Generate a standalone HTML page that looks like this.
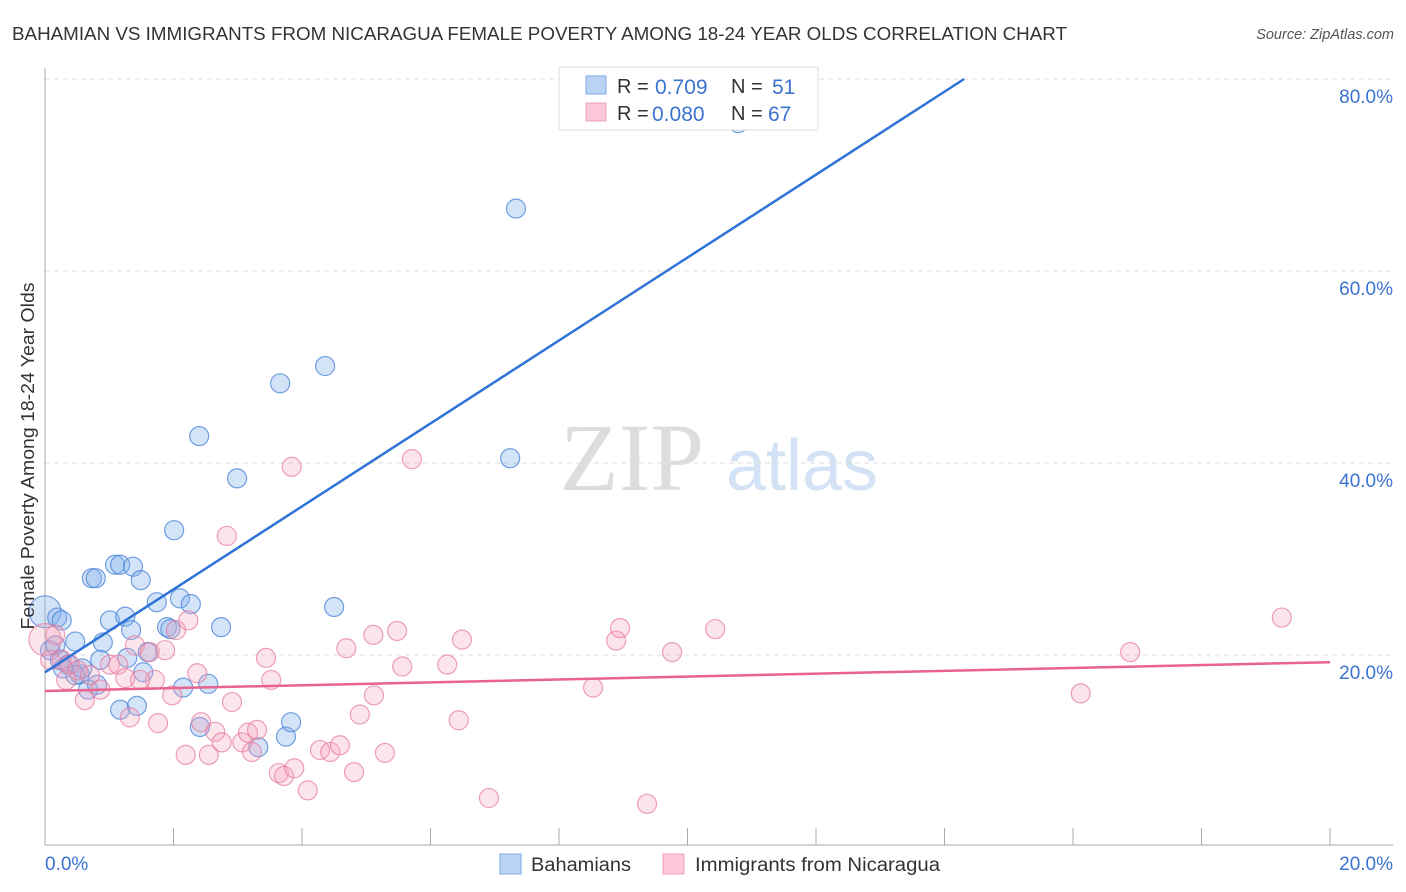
<!DOCTYPE html>
<html><head><meta charset="utf-8"><style>
body{margin:0;background:#fff;font-family:"Liberation Sans",sans-serif}
svg{display:block}
</style></head><body>
<svg width="1406" height="892" xmlns="http://www.w3.org/2000/svg">
<text x="12" y="40" font-size="18" fill="#333" textLength="1055" lengthAdjust="spacingAndGlyphs">BAHAMIAN VS IMMIGRANTS FROM NICARAGUA FEMALE POVERTY AMONG 18-24 YEAR OLDS CORRELATION CHART</text>
<text x="1394" y="39" font-size="14.5" fill="#555" font-style="italic" text-anchor="end">Source: ZipAtlas.com</text>
<g>
<text x="632" y="490" font-size="96" font-family="Liberation Serif,serif" fill="#ddd" text-anchor="middle">ZIP</text>
<text x="802" y="490" font-size="72" fill="#d3e2f5" text-anchor="middle">atlas</text>
</g>
<g id="grid"></g>
<g id="axes"></g>
<g id="pts"></g>
<g id="lines"></g>
<text transform="translate(34,456) rotate(-90)" font-size="18" fill="#333" text-anchor="middle" textLength="347" lengthAdjust="spacingAndGlyphs">Female Poverty Among 18-24 Year Olds</text>
<g>
<rect x="559" y="67" width="259" height="63" fill="#fff" stroke="#ddd"/>
<rect x="586" y="76" width="20" height="18" fill="#b8d3f5" stroke="#7fa9e3"/>
<rect x="586" y="103" width="20" height="18" fill="#fcc7d6" stroke="#f0a0b8"/>
<text x="617" y="93" font-size="20" fill="#333">R = </text><text x="655" y="94" font-size="21" fill="#3b73d0">0.709</text>
<text x="731" y="93" font-size="20" fill="#333">N = </text><text x="772" y="94" font-size="21" fill="#3b73d0">51</text>
<text x="617" y="120" font-size="20" fill="#333">R = </text><text x="652" y="121" font-size="21" fill="#3b73d0">0.080</text>
<text x="731" y="120" font-size="20" fill="#333">N = </text><text x="768" y="121" font-size="21" fill="#3b73d0">67</text>
</g>
<g>
<rect x="500" y="854" width="21" height="20" fill="#b8d3f5" stroke="#7fa9e3"/>
<text x="531" y="871" font-size="19" fill="#333" textLength="100" lengthAdjust="spacingAndGlyphs">Bahamians</text>
<rect x="663" y="854" width="21" height="20" fill="#fcc7d6" stroke="#f0a0b8"/>
<text x="695" y="871" font-size="19" fill="#333" textLength="245" lengthAdjust="spacingAndGlyphs">Immigrants from Nicaragua</text>
</g>
</svg>
<script>
const yTicks=[20,40,60,80];
const xTickVals=[0,2,4,6,8,10,12,14,16,18,20];
const blueX=[0,0.19,0.26,0.08,0.23,0.47,0.36,0.54,0.67,0.81,0.73,0.79,1.09,1.17,1.37,1.49,1.01,1.25,1.34,0.90,1.28,1.60,1.53,1.17,1.43,1.74,2.10,2.27,1.90,1.95,2.01,2.40,2.74,2.54,2.15,2.41,2.99,3.32,3.75,3.83,3.66,4.36,4.50,7.33,7.24,10.79,0.86,0.58,0.47,0.16,0.28];
const blueY=[24.5,23.9,23.6,20.5,19.5,21.4,19.0,18.0,16.4,16.9,28.0,28.0,29.4,29.4,29.2,27.8,23.6,24.0,22.6,21.3,19.7,20.3,18.2,14.3,14.7,25.5,25.9,25.3,22.9,22.7,33.0,42.8,22.9,17.0,16.6,12.5,38.4,10.4,11.5,13.0,48.3,50.1,25.0,66.5,40.5,75.4,19.5,18.6,17.9,21.0,18.6];
const pinkX=[0,0.16,0.26,0.08,0.39,0.51,0.70,0.86,1.01,1.14,1.25,1.32,1.40,1.63,1.71,1.87,1.76,2.04,2.23,1.98,2.19,2.37,2.55,2.43,2.65,2.75,2.91,2.83,3.07,3.22,3.16,3.30,3.44,3.52,3.64,3.72,3.88,3.84,4.09,4.28,4.44,4.59,4.69,4.81,4.90,5.12,5.11,5.29,5.48,5.56,5.71,6.26,6.44,6.49,6.91,8.53,8.89,8.95,9.37,9.76,10.43,16.12,16.89,19.25,1.48,0.62,0.33];
const pinkY=[21.6,22.1,19.5,19.5,19.0,18.4,17.9,16.4,19.0,19.0,17.6,13.5,21.0,20.3,17.4,20.5,12.9,22.6,23.6,15.8,9.6,18.1,9.6,13.0,12.0,10.9,15.1,32.4,10.9,9.9,11.9,12.2,19.7,17.4,7.7,7.4,8.2,39.6,5.9,10.1,9.9,10.6,20.7,7.8,13.8,15.8,22.1,9.8,22.5,18.8,40.4,19.0,13.2,21.6,5.1,16.6,21.5,22.8,4.5,20.3,22.7,16.0,20.3,23.9,17.4,15.3,17.4];
const blueLine=[18.2,4.32];
const pinkLine=[16.25,0.15];
const NS='http://www.w3.org/2000/svg';
const sx=v=>45+v*64.25, sy=v=>847-v*9.6;
function mk(tag,attrs,parent){const e=document.createElementNS(NS,tag);for(const k in attrs)e.setAttribute(k,attrs[k]);parent.appendChild(e);return e;}
const grid=document.getElementById('grid'),axes=document.getElementById('axes'),pts=document.getElementById('pts'),lines=document.getElementById('lines');
yTicks.forEach(t=>{
 const l=mk('line',{x1:45,x2:1393,y1:sy(t),y2:sy(t),stroke:'#ddd','stroke-dasharray':'5,4'},grid);
 
 
 const tx=mk('text',{x:1393,y:sy(t)+24,'font-size':19,fill:'#3b73d0','text-anchor':'end'},axes);
 tx.textContent=t.toFixed(1)+'%';
 
 
});
const ax=mk('line',{x1:45,x2:45,y1:68,y2:845,stroke:'#aaa'},axes);


const bx=mk('line',{x1:45,x2:1393,y1:845,y2:845,stroke:'#aaa'},axes);


xTickVals.forEach(t=>{
 const l=mk('line',{x1:sx(t),x2:sx(t),y1:828,y2:845,stroke:'#aaa'},axes);
 
 
});
[[0,'start',45],[20,'end',1393]].forEach(([v,a,x])=>{
 const tx=mk('text',{x:x,y:870,'font-size':19,fill:'#3b73d0','text-anchor':a},axes);
 tx.textContent=v.toFixed(1)+'%';
 
 
});
function dots(X,Y,fill,stroke,name){
 X.forEach((x,i)=>{
  const r=(i===0)?16:9.5;
  const c=mk('circle',{cx:sx(x),cy:sy(Y[i]),r:r,fill:fill,stroke:stroke,'stroke-width':1.2},pts);
  
  
 });
}
dots(blueX,blueY,'rgba(130,175,235,0.35)','rgba(70,130,215,0.75)','bahamian-point');
dots(pinkX,pinkY,'rgba(245,165,190,0.3)','rgba(230,120,155,0.7)','nicaragua-point');
function trend(p,color,name){
 let x2=20,y2=p[0]+p[1]*20;
 if(y2>80){x2=(80-p[0])/p[1];y2=80;}
 const l=mk('line',{x1:sx(0),y1:sy(p[0]),x2:sx(x2),y2:sy(y2),stroke:color,'stroke-width':2.5},lines);
 
 
}
trend(blueLine,'#2f73d6','bahamian-trendline');
trend(pinkLine,'#e8638f','nicaragua-trendline');
</script>
</body></html>
